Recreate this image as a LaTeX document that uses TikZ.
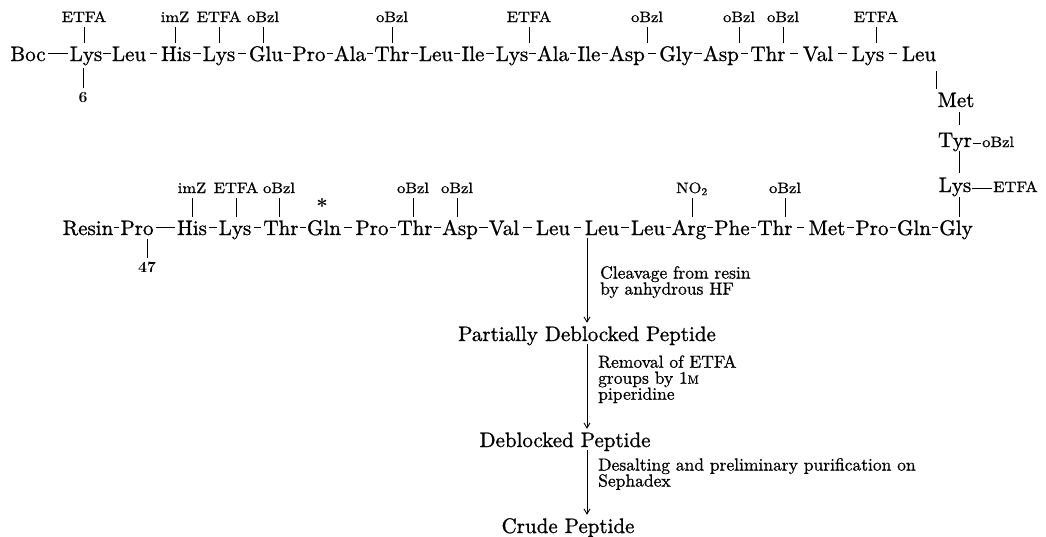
\documentclass[tikz,border=0pt]{standalone}
\usepackage{fontspec}
\setmainfont{lmroman10-regular.otf}[BoldFont=lmroman10-bold.otf]
\usepackage{graphicx}
\usetikzlibrary{arrows.meta}
\newcommand\myresfont{\fontsize{21}{24}\selectfont\addfontfeatures{FakeBold=1}}
\newcommand\mypgfont{\fontsize{15}{17}\selectfont\addfontfeatures{FakeBold=1}}
\newcommand\mynotefont{\fontsize{17.5}{16}\selectfont\addfontfeatures{FakeBold=0.8}}
\newcommand\wide[1]{\scalebox{1.1}[1]{#1}}
\begin{document}
\begin{tikzpicture}[x=1pt,y=-1pt,
  res/.style={font=\myresfont, inner sep=0pt, text height=18pt, text depth=3pt, anchor=base},
  pg/.style={font=\mypgfont, inner sep=0pt, text height=11pt, text depth=3pt, anchor=base},
  num/.style={font=\bfseries\fontsize{15.5}{17}\selectfont, inner sep=0pt, text height=10pt, text depth=0pt, anchor=base},
  note/.style={font=\mynotefont, inner sep=0pt, align=left, anchor=north west},
  bond/.style={line width=0.9pt, shorten <=1pt, shorten >=1pt},
  stick/.style={line width=0.8pt},
  arr/.style={line width=0.9pt, -{Straight Barb[length=5pt,width=6pt]}}]
\fill[white] (0,0) rectangle (1046,536);
\useasboundingbox (0,0) rectangle (1046,536);
% row 1
\foreach \t/\x [count=\i from 0] in {Boc/28,Lys/86,Leu/129,His/176,Lys/219,Glu/266,Pro/309,Ala/350,Thr/392,Leu/436,Ile/473,Lys/512,Ala/553,Ile/589,Asp/627,Gly/676,Asp/721,Thr/768,Val/818,Lys/868,Leu/919}
  \node[res] (a\i) at (\x,61) {\t};
\draw[bond, shorten <=2pt, shorten >=2pt] (a0) -- (a1);
\foreach \i/\s [evaluate=\i as \j using int(\i+1)] in {1/1pt,2/3.5pt,3/1.9pt,4/2.9pt,5/1pt,6/1pt,7/1pt,8/1pt,9/1pt,10/1.7pt,11/1pt,12/1pt,13/1pt,14/3.2pt,15/1.2pt,16/1.8pt,17/4.2pt,18/4.9pt,19/4.9pt}
  \draw[bond, shorten <=\s, shorten >=\s] (a\i) -- (a\j);
% row 2
\foreach \t/\x [count=\i from 0] in {Resin/88,Pro/137,His/192,Lys/235,Thr/281,Gln/324,Pro/372,Thr/415,Asp/460,Val/504,Leu/553,Leu/602,Leu/648,Arg/689,Phe/732,Thr/775,Met/827,Pro/872,Gln/914,Gly/956}
  \node[res] (b\i) at (\x,235) {\t};
\foreach \i/\s [evaluate=\i as \j using int(\i+1)] in {0/1pt,1/2pt,2/1.9pt,3/2.1pt,4/1pt,5/3.2pt,6/1pt,7/1pt,8/1pt,9/4pt,10/3.5pt,11/2pt,12/1pt,13/1pt,14/1pt,15/4pt,16/1pt,17/1pt,18/1pt}
  \draw[bond, shorten <=\s, shorten >=\s] (b\i) -- (b\j);
% protecting groups row 1
\foreach \t/\x/\r in {ETFA/84/1,imZ/175/3,ETFA/219/4,oBzl/263/5,oBzl/392/8,ETFA/529/11,oBzl/647/14,oBzl/739/16,oBzl/783/17,ETFA/876/19}{
  \node[pg] (la\r) at (\x,22) {\wide{\t}};
  \draw[stick, shorten <=2pt] (la\r.south) -- (la\r.south |- a\r.north);
}
% protecting groups row 2
\foreach \t/\x/\r in {imZ/192/2,ETFA/236/3,oBzl/279/4,oBzl/413/7,oBzl/457/8,{NO\textsubscript{2}}/692/13,oBzl/785/15}{
  \node[pg] (lb\r) at (\x,193) {\wide{\t}};
  \draw[stick, shorten <=2pt] (lb\r.south) -- (lb\r.south |- b\r.north);
}
% vertical column
\node[res] (m1) at (956,107) {Met};
\node[res] (m2) at (955,147) {Tyr};
\node[res] (m3) at (955,192) {Lys};
\draw[stick, shorten <=7pt] (a20.south east) -- (a20.south east |- m1.north);
\draw[stick, shorten <=2pt, shorten >=4pt] ([xshift=3pt]m1.south) -- ([xshift=3pt]m1.south |- m2.north);
\draw[stick, shorten <=1pt, shorten >=1pt] ([xshift=3pt]m1.south |- m2.south) -- ([xshift=3pt]m1.south |- m3.north);
\draw[stick, shorten <=2pt] ([xshift=3pt]m1.south |- m3.south) -- ([xshift=3pt]m1.south |- b19.north);
\node[pg, anchor=base west] (oT) at (982,147) {\wide{oBzl}};
\draw[bond, shorten <=1pt, shorten >=1pt] (oT.west) -- (oT.west -| m2.east);
\node[pg, anchor=base west] (eL) at (993,192) {\wide{ETFA}};
\draw[bond, shorten <=1pt, shorten >=1pt] (eL.west) -- (eL.west -| m3.east);
% numbers and asterisk
\node[num] (n6) at (83,102) {6};
\draw[stick, shorten <=4pt, shorten >=4pt] (n6.north) -- (n6.north |- a1.south);
\node[num] (n47) at (147,272) {47};
\draw[stick, shorten <=4pt, shorten >=1pt] (n47.north) -- (n47.north |- b1.south);
\node[font=\bfseries\fontsize{20}{22}\selectfont, inner sep=0pt, anchor=base] (ast) at (322,213) {*};
% process
\node[res] (pdp) at (587,341) {Partially Deblocked Peptide};
\node[res] (dp) at (565,447) {Deblocked Peptide};
\node[res] (cp) at (568,533) {Crude Peptide};
\draw[arr] ([xshift=-15pt]b11.south) -- ([xshift=-15pt]b11.south |- pdp.north);
\draw[arr] (pdp.south) -- (pdp.south |- dp.north);
\draw[arr] (pdp.south |- dp.south) -- (pdp.south |- cp.north);
\node[note] (t1) at (600,266) {Cleavage from resin\\by anhydrous HF};
\node[note] (t2) at (598,355) {Removal of ETFA\\groups by 1{\fontsize{12}{14}\selectfont M}\\piperidine};
\node[note] (t3) at (598,458) {Desalting and preliminary purification on\\Sephadex};
\end{tikzpicture}
\end{document}
